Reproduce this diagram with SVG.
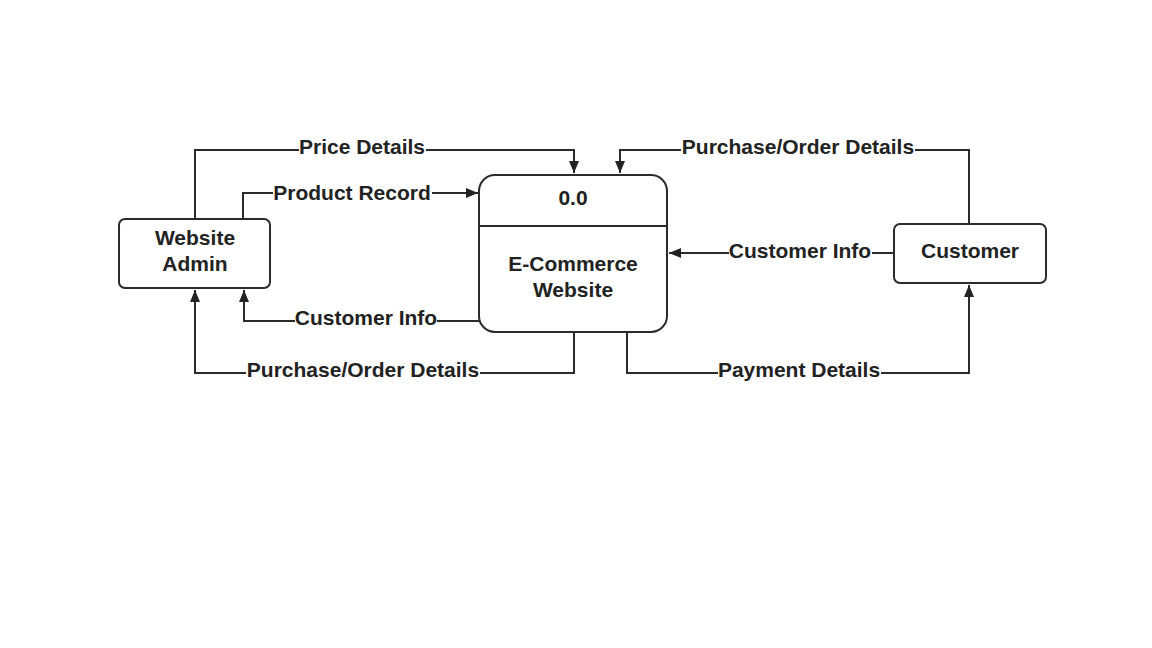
<svg xmlns="http://www.w3.org/2000/svg" width="1152" height="648" viewBox="0 0 1152 648">
<defs>
<style>
.box{fill:#fff;stroke:#2b2b2b;stroke-width:2}
.ln{fill:none;stroke:#2b2b2b;stroke-width:2}
.t{font-family:"Liberation Sans",Arial,sans-serif;font-weight:bold;font-size:21px;fill:#222;text-anchor:middle}
.bg{fill:#fff}
</style>
<marker id="ah" viewBox="0 0 12 10" refX="12" refY="5" markerWidth="12" markerHeight="10" markerUnits="userSpaceOnUse" orient="auto">
<path d="M0,0 L12,5 L0,10 z" fill="#222"/>
</marker>
</defs>
<rect width="1152" height="648" fill="#fff"/>
<g id="connectors">
<path class="ln" d="M195,219 V150 H574 V173" marker-end="url(#ah)"/>
<path class="ln" d="M243,219 V193 H478" marker-end="url(#ah)"/>
<path class="ln" d="M969,224 V150 H620 V173" marker-end="url(#ah)"/>
<path class="ln" d="M894,253 H669" marker-end="url(#ah)"/>
<path class="ln" d="M479,321 H244 V290" marker-end="url(#ah)"/>
<path class="ln" d="M574,332 V373 H195 V290" marker-end="url(#ah)"/>
<path class="ln" d="M627,332 V373 H969 V285" marker-end="url(#ah)"/>
<rect class="bg" x="299" y="136" width="127" height="22"/>
<text class="t" x="362" y="154">Price Details</text>
<rect class="bg" x="273" y="181" width="159" height="22"/>
<text class="t" x="352" y="200">Product Record</text>
<rect class="bg" x="681" y="136" width="234" height="22"/>
<text class="t" x="798" y="154">Purchase/Order Details</text>
<rect class="bg" x="729" y="240" width="143" height="22"/>
<text class="t" x="800" y="258">Customer Info</text>
<rect class="bg" x="295" y="307" width="142" height="22"/>
<text class="t" x="366" y="325">Customer Info</text>
<rect class="bg" x="246" y="359" width="234" height="22"/>
<text class="t" x="363" y="377">Purchase/Order Details</text>
<rect class="bg" x="718" y="359" width="163" height="22"/>
<text class="t" x="799" y="377">Payment Details</text>
</g>
<g id="admin">
<rect class="box" x="119" y="219" width="151" height="69" rx="6"/>
<text class="t" x="195" y="245">Website</text>
<text class="t" x="195" y="271">Admin</text>
</g>
<g id="process">
<rect class="box" x="479" y="175" width="188" height="157" rx="16"/>
<line class="ln" x1="479" y1="226" x2="667" y2="226"/>
<text class="t" x="573" y="205">0.0</text>
<text class="t" x="573" y="271">E-Commerce</text>
<text class="t" x="573" y="297">Website</text>
</g>
<g id="customer">
<rect class="box" x="894" y="224" width="152" height="59" rx="6"/>
<text class="t" x="970" y="258">Customer</text>
</g>
</svg>
